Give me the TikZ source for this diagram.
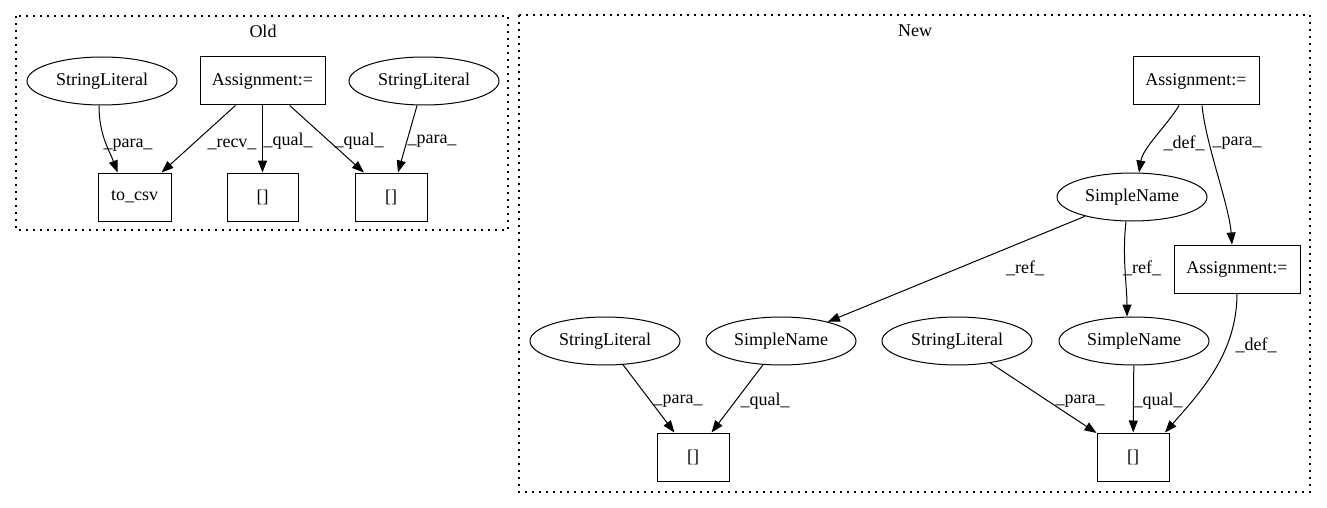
\documentclass[tikz,border=0pt]{standalone}
\usepackage{fontspec}
\setmainfont{Liberation Serif}
\usetikzlibrary{shapes.geometric,arrows.meta}
\tikzset{
	box/.style={draw, rectangle, minimum height=48pt, inner sep=0pt},
	oval/.style={draw, ellipse, minimum width=150pt, minimum height=48pt, inner sep=0pt},
	lbl/.style={inner sep=0pt},
	cluster/.style={draw, dash pattern=on 1.6pt off 5.4pt, line width=1.2pt},
	edge/.style={-{Triangle[length=12pt,width=9pt]}},
}
\begin{document}
\begin{tikzpicture}[x=1pt, y=-1pt, line width=1pt, font=\fontsize{18}{20}\selectfont]
	\useasboundingbox (0,0) rectangle (1327,508);
	\draw[cluster] (16,16) rectangle (508,230);
	\draw[cluster] (519,15) rectangle (1310,492);
	\node (old) at (263,31) {Old};
	\node (new) at (915,31) {New};

	\node[oval] (sla) at (102,81) {StringLiteral};
	\node[box, minimum width=125pt] (asgo) at (262.5,81) {Assignment:=};
	\node[oval] (slb) at (424,81) {StringLiteral};
	\node[box, minimum width=73pt] (tocsv) at (134.5,197) {to\_csv};
	\node[box, minimum width=71pt] (bm) at (262.5,197) {[]};
	\node[box, minimum width=72pt] (bo) at (391,197) {[]};

	\draw[edge] ([xshift=-3pt]sla.south) .. controls +(0,30) and +(-8,-22) .. ([xshift=-17pt]tocsv.north);
	\draw[edge] (asgo) -- (tocsv);
	\draw[edge] (asgo) -- (bm);
	\draw[edge] (asgo) -- (bo);
	\draw[edge] (slb) -- (bo);
	\node[lbl] (l1) at (128,145) {\_para\_};
	\node[lbl] (l2) at (232,144) {\_recv\_};
	\node[lbl] (l3) at (288,141) {\_qual\_};
	\node[lbl] (l4) at (359,141) {\_qual\_};
	\node[lbl] (l5) at (432,141) {\_para\_};

	\node[box, minimum width=126pt] (asgn) at (1196,81) {Assignment:=};
	\node[oval] (sntop) at (1132,197) {SimpleName};
	\node[box, minimum width=126pt] (asgnb) at (1237,269) {Assignment:=};
	\node[oval] (sll) at (605,341) {StringLiteral};
	\node[oval] (snl) at (781,341) {SimpleName};
	\node[oval] (slm) at (957,341) {StringLiteral};
	\node[oval] (snr) at (1134,341) {SimpleName};
	\node[box, minimum width=72pt] (bl) at (693,457) {[]};
	\node[box, minimum width=72pt] (brr) at (1133,457) {[]};

	\draw[edge] ([xshift=-17pt]asgn.south) .. controls +(-12,20) and +(4,-25) .. ([xshift=7pt]sntop.north);
	\draw[edge] ([xshift=6pt]asgn.south) .. controls +(4,40) and +(-3,-40) .. ([xshift=-5pt]asgnb.north);
	\draw[edge] (sntop) -- (snl);
	\draw[edge] ([xshift=-6pt]sntop.south) .. controls +(-4,35) and +(0,-30) .. ([xshift=-7pt]snr.north);
	\draw[edge] (asgnb.south) .. controls +(0,60) and +(35,-40) .. ([xshift=32pt]brr.north);
	\draw[edge] (sll) -- (bl);
	\draw[edge] (snl) -- (bl);
	\draw[edge] (slm) -- (brr);
	\draw[edge] (snr) -- (brr);
	\node[lbl] (l6) at (1184,143) {\_def\_};
	\node[lbl] (l7) at (1237,143) {\_para\_};
	\node[lbl] (l8) at (1025,268) {\_ref\_};
	\node[lbl] (l9) at (1142,268) {\_ref\_};
	\node[lbl] (l10) at (1256,345) {\_def\_};
	\node[lbl] (l11) at (678,401) {\_para\_};
	\node[lbl] (l12) at (765,401) {\_qual\_};
	\node[lbl] (l13) at (1080,401) {\_para\_};
	\node[lbl] (l14) at (1158,401) {\_qual\_};
\end{tikzpicture}
\end{document}
